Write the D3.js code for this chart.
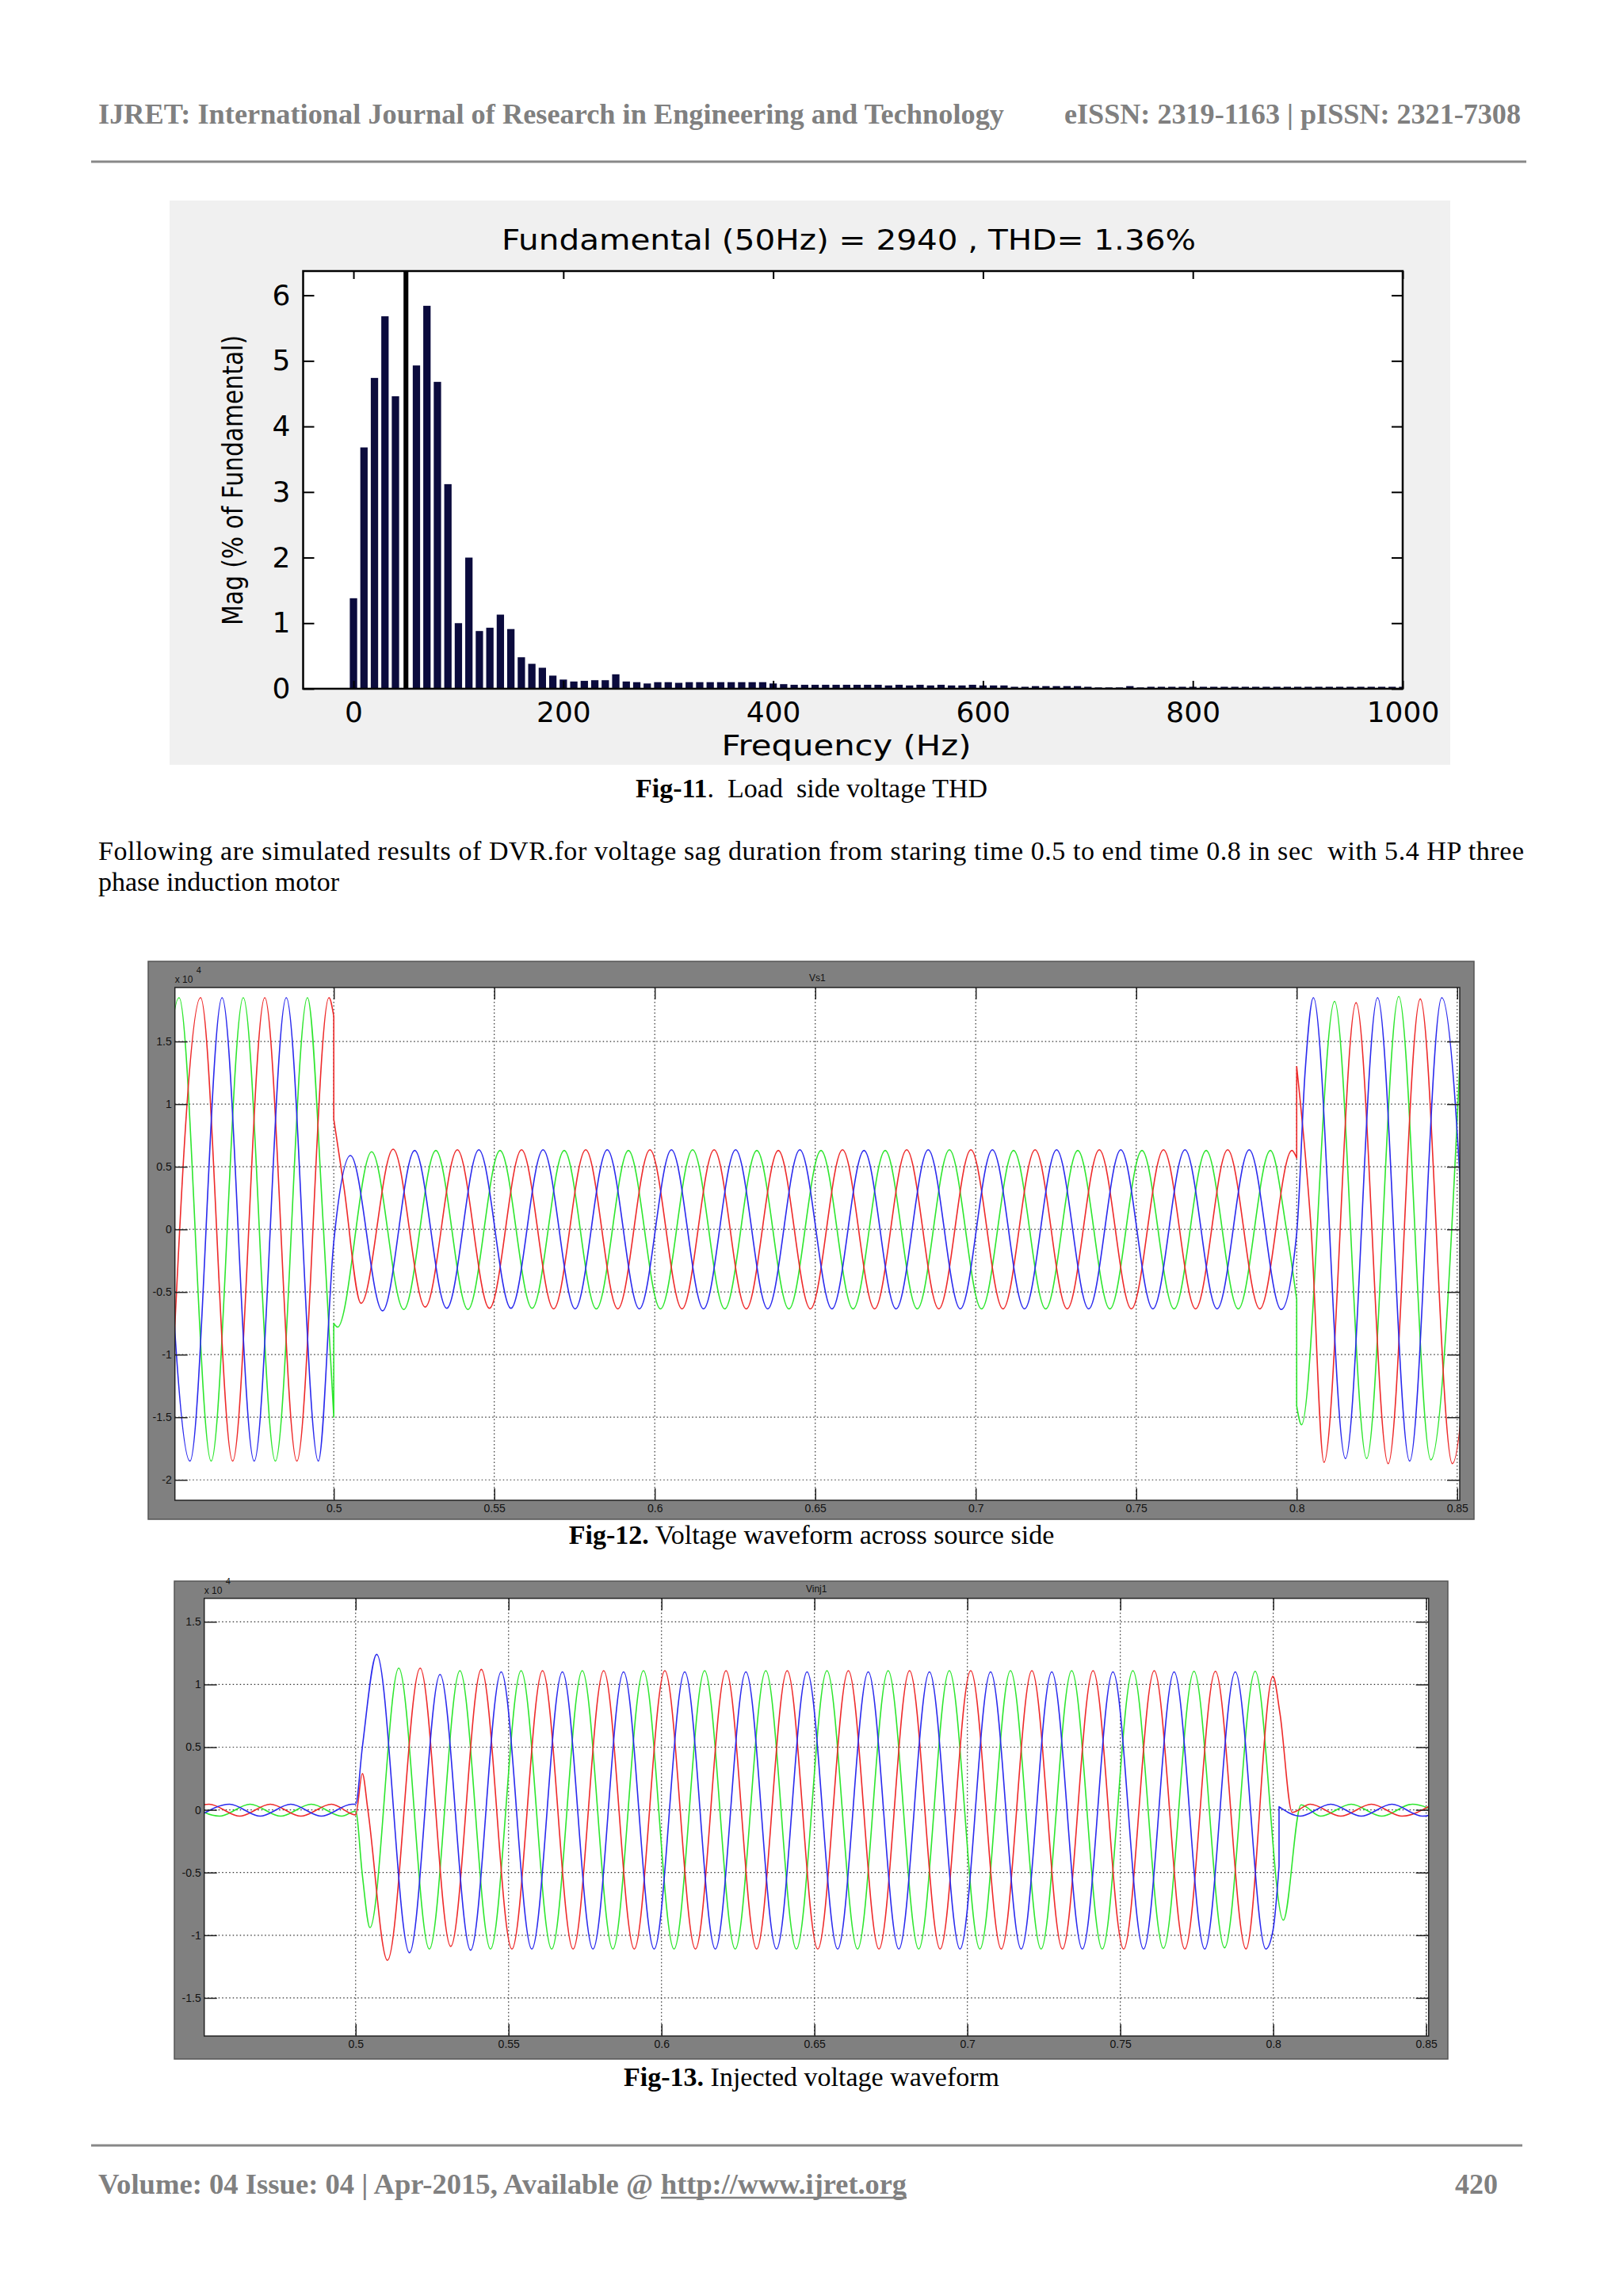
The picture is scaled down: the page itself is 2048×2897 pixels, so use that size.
<!DOCTYPE html>
<html>
<meta charset="utf-8">
<style type="text/css">
	body { margin: 0; background: #fff; }
	.serif { font-family: "Liberation Serif", "Times New Roman", serif; white-space: pre; }
	.head { font-size: 36px; font-weight: bold; fill: #808080; }
	.body { font-size: 34px; fill: #000; }
	.matlab { font-family: "DejaVu Sans", sans-serif; font-size: 35px; fill: #000; }
	.grid line { stroke: #333; stroke-width: 1.2; stroke-dasharray: 1.5,3; }
	.trace { fill: none; stroke-width: 1.6px; stroke-linejoin: round; }
</style>
<svg width="2048" height="2897"></svg>
<script src="https://d3js.org/d3.v7.min.js"></script>
<script>
	// ---- Fig-11: harmonic spectrum (% of fundamental), one bar every 10 Hz from 0 Hz
	var thdStep = 10;
	var thdMag = [
		1.38, 3.68, 4.74, 5.68, 4.46, 100, 4.93, 5.84, 4.68, 3.12,
		1.00, 2.00, 0.88, 0.93, 1.13, 0.91, 0.48, 0.38, 0.32, 0.20,
		0.14, 0.11, 0.12, 0.13, 0.13, 0.22, 0.11, 0.10, 0.08, 0.10,
		0.10, 0.09, 0.10, 0.10, 0.10, 0.10, 0.10, 0.10, 0.10, 0.10,
		0.08, 0.07, 0.06, 0.06, 0.06, 0.06, 0.06, 0.06, 0.06, 0.06,
		0.06, 0.05, 0.06, 0.05, 0.06, 0.05, 0.06, 0.05, 0.05, 0.06,
		0.05, 0.05, 0.05, 0.03, 0.03, 0.04, 0.04, 0.04, 0.04, 0.04,
		0.03, 0.02, 0.02, 0.02, 0.04, 0.02, 0.03, 0.03, 0.03, 0.03,
		0.03, 0.03, 0.03, 0.03, 0.03, 0.03, 0.03, 0.03, 0.03, 0.03,
		0.03, 0.03, 0.03, 0.03, 0.03, 0.03, 0.03, 0.03, 0.03, 0.03,
		0.03
	];
	var thdXTicks = [0, 200, 400, 600, 800, 1000];
	var thdYTicks = [0, 1, 2, 3, 4, 5, 6];
	var thdXDomain = [-48, 1000];
	var thdYDomain = [0, 6.37];

	// ---- scope plots (values x 10^4), extrema read every half cycle (10 ms)
	var halfCycle = 0.01;
	var scopeTime = [0.4505, 0.8508];
	var scopeXTicks = [0.5, 0.55, 0.6, 0.65, 0.7, 0.75, 0.8, 0.85];
	var vsYTicks = [-2, -1.5, -1, -0.5, 0, 0.5, 1, 1.5];
	var vsYDomain = [-2.163, 1.931];
	var vinjYTicks = [-1.5, -1, -0.5, 0, 0.5, 1, 1.5];
	var vinjYDomain = [-1.804, 1.687];

	// Fig-12 Vs1
	var vsGreenPre = [-1.85, 1.85, -1.85, 1.85, -1.85, 1.85];
	var vsGreenSag = [
		0.62, -0.64, 0.63, -0.64, 0.63, -0.63, 0.63, -0.635, 0.63, -0.635,
		0.635, -0.635, 0.63, -0.635, 0.63, -0.635, 0.63, -0.635, 0.635, -0.635,
		0.63, -0.635, 0.63, -0.635, 0.63, -0.635, 0.63, -0.635, 0.63];
	var vsGreenPost = [1.82, -1.83, 1.86, -1.84, 1.85];
	var vsRedPre = [-1.85, 1.85, -1.85, 1.85, -1.85, 1.85];
	var vsRedSag = [
		-0.59, 0.64, -0.62, 0.635, -0.63, 0.635, -0.635, 0.635, -0.635, 0.635,
		-0.635, 0.635, -0.635, 0.63, -0.635, 0.635, -0.635, 0.635, -0.635, 0.635,
		-0.635, 0.635, -0.635, 0.635, -0.635, 0.635, -0.635, 0.635, -0.635, 0.63];
	var vsRedPost = [-1.86, 1.81, -1.87, 1.84, -1.87, 1.85];
	var vsBluePre = [1.85, -1.85, 1.85, -1.85, 1.85, -1.85];
	var vsBlueSag = [
		0.59, -0.65, 0.63, -0.63, 0.635, -0.63, 0.635, -0.635, 0.635, -0.635,
		0.635, -0.635, 0.635, -0.635, 0.635, -0.635, 0.63, -0.635, 0.635, -0.635,
		0.635, -0.635, 0.635, -0.635, 0.635, -0.635, 0.635, -0.635, 0.635, -0.64];
	var vsBluePost = [1.85, -1.83, 1.85, -1.85, 1.85, -1.85];

	// Fig-13 Vinj1
	var vinjRedPre = [-0.05, 0.045, -0.05, 0.045, -0.05, 0.045];
	var vinjRedSag = [
		1.13, -1.09, 1.12, -1.11, 1.11, -1.11, 1.11, -1.11, 1.11, -1.11,
		1.11, -1.11, 1.11, -1.11, 1.11, -1.11, 1.11, -1.11, 1.11, -1.11,
		1.11, -1.11, 1.11, -1.11, 1.11, -1.11, 1.105, -1.11];
	var vinjRedPost = [0.045, -0.05, 0.045, -0.05, 0.045];
	var vinjGreenPre = [0.045, -0.05, 0.045, -0.05, 0.045, -0.05];
	var vinjGreenSag = [
		1.13, -1.11, 1.11, -1.11, 1.11, -1.11, 1.11, -1.11, 1.11, -1.11,
		1.11, -1.11, 1.11, -1.11, 1.11, -1.11, 1.11, -1.11, 1.11, -1.11,
		1.11, -1.11, 1.11, -1.11, 1.11, -1.105, 1.105, -1.10, 1.105];
	var vinjGreenPost = [-0.05, 0.045, -0.05, 0.045, -0.05];
	var vinjBluePre = [-0.05, 0.045, -0.05, 0.045, -0.05, 0.045];
	var vinjBlueSag = [
		-1.14, 1.08, -1.12, 1.10, -1.11, 1.10, -1.11, 1.10, -1.11, 1.10,
		-1.11, 1.10, -1.11, 1.10, -1.11, 1.10, -1.11, 1.10, -1.11, 1.10,
		-1.11, 1.10, -1.11, 1.10, -1.11, 1.10, -1.11, 1.10, -1.11];
	var vinjBluePost = [-0.05, 0.045, -0.05, 0.045, -0.05, 0.045];

	var RED = '#ee2a2a', GREEN = '#2ee62e', BLUE = '#2a2aee';

	// place a list of read extrema on the half-cycle grid starting at t0
	function run(t0, vals) {
		return vals.map(function (v, i) { return [t0 + i * halfCycle, v]; });
	}

	var vsTraces = [
		{ color: GREEN, pieces: [
			run(0.4418, vsGreenPre).concat([[0.4968, 0], [0.5, -1.5]]),
			[[0.5, -0.75], [0.5012, -0.78]].concat(run(0.5118, vsGreenSag), [[0.7968, 0], [0.8, -0.56]]),
			[[0.8, -1.41], [0.8015, -1.56]].concat(run(0.8118, vsGreenPost))
		] },
		{ color: RED, pieces: [
			run(0.4485, vsRedPre).concat([[0.5, 1.70]]),
			[[0.5, 0.88], [0.5031, 0.35]].concat(run(0.5085, vsRedSag), [[0.8, 0.57]]),
			[[0.8, 1.30], [0.8045, 0]].concat(run(0.8085, vsRedPost))
		] },
		{ color: BLUE, pieces: [
			run(0.4452, vsBluePre).concat([[0.5, -0.10]], run(0.5052, vsBlueSag),
				[[0.8, -0.03], [0.8026, 1.25]], run(0.8052, vsBluePost))
		] }
	];

	var vinjTraces = [
		{ color: GREEN, pieces: [
			run(0.4455, vinjGreenPre).concat([[0.5, -0.01], [0.5022, -0.52], [0.5047, -0.94]],
				run(0.5141, vinjGreenSag), [[0.8033, -0.88], [0.8091, 0.04]], run(0.8155, vinjGreenPost))
		] },
		{ color: RED, pieces: [
			run(0.4421, vinjRedPre).concat([[0.5, -0.04], [0.5022, 0.29], [0.504, 0.0], [0.5104, -1.2]],
				run(0.5211, vinjRedSag), [[0.7999, 1.065], [0.8022, 0.77], [0.8062, -0.02]], run(0.8121, vinjRedPost))
		] },
		{ color: BLUE, pieces: [
			run(0.4488, vinjBluePre).concat([[0.5, 0.045], [0.5022, 0.5], [0.5069, 1.24]],
				run(0.5176, vinjBlueSag), [[0.8, -0.95], [0.8019, -0.45]]),
			[[0.8019, 0.025]].concat(run(0.8088, vinjBluePost))
		] }
	];

	var svg = d3.select('svg');
	svg.append('rect').attr('width', 2048).attr('height', 2897).attr('fill', '#fff');

	// ---- page header / footer / text
	svg.append('text').attr('class', 'serif head').attr('x', 124).attr('y', 156)
		.attr('textLength', 1143).attr('lengthAdjust', 'spacingAndGlyphs')
		.text('IJRET: International Journal of Research in Engineering and Technology');
	svg.append('text').attr('class', 'serif head').attr('x', 1343).attr('y', 156)
		.attr('textLength', 576).attr('lengthAdjust', 'spacingAndGlyphs')
		.text('eISSN: 2319-1163 | pISSN: 2321-7308');
	svg.append('line').attr('x1', 115).attr('x2', 1926).attr('y1', 204).attr('y2', 204)
		.attr('stroke', '#888').attr('stroke-width', 3);

	function caption(y, bold, rest) {
		var t = svg.append('text').attr('class', 'serif body').attr('x', 1024).attr('y', y)
			.attr('text-anchor', 'middle');
		t.append('tspan').attr('font-weight', 'bold').text(bold);
		t.append('tspan').text(rest);
	}
	caption(1006, 'Fig-11', '.  Load  side voltage THD');
	caption(1948, 'Fig-12.', ' Voltage waveform across source side');
	caption(2632, 'Fig-13.', ' Injected voltage waveform');

	svg.append('text').attr('class', 'serif body').attr('x', 124).attr('y', 1085)
		.attr('textLength', 1799).attr('lengthAdjust', 'spacing')
		.text('Following are simulated results of DVR.for voltage sag duration from staring time 0.5 to end time 0.8 in sec  with 5.4 HP three');
	svg.append('text').attr('class', 'serif body').attr('x', 124).attr('y', 1124)
		.text('phase induction motor');

	svg.append('line').attr('x1', 115).attr('x2', 1921).attr('y1', 2707).attr('y2', 2707)
		.attr('stroke', '#888').attr('stroke-width', 3);
	svg.append('text').attr('class', 'serif head').attr('x', 124).attr('y', 2768)
		.attr('textLength', 700).attr('lengthAdjust', 'spacingAndGlyphs')
		.text('Volume: 04 Issue: 04 | Apr-2015, Available @');
	svg.append('text').attr('class', 'serif head').attr('x', 834).attr('y', 2768)
		.attr('textLength', 310).attr('lengthAdjust', 'spacingAndGlyphs')
		.text('http://www.ijret.org');
	svg.append('line').attr('x1', 834).attr('x2', 1144).attr('y1', 2773).attr('y2', 2773)
		.attr('stroke', '#808080').attr('stroke-width', 2.5);
	svg.append('text').attr('class', 'serif head').attr('x', 1890).attr('y', 2768)
		.attr('text-anchor', 'end').text('420');

	// ---- Fig-11
	(function () {
		var g = svg.append('g');
		var L = 382.5, T = 342, R = 1770, B = 869;
		g.append('rect').attr('x', 214).attr('y', 253).attr('width', 1616).attr('height', 712)
			.attr('fill', '#f0f0f0');
		g.append('rect').attr('x', L).attr('y', T).attr('width', R - L).attr('height', B - T)
			.attr('fill', '#fff');

		var x = d3.scaleLinear().domain(thdXDomain).range([L, R]);
		var y = d3.scaleLinear().domain(thdYDomain).range([B, T]);

		g.append('clipPath').attr('id', 'thdclip').append('rect')
			.attr('x', L).attr('y', T).attr('width', R - L).attr('height', B - T);

		var bars = thdMag.map(function (v, i) { return { f: i * thdStep, v: v }; });
		// the clipped fundamental is drawn as a thinner black bar
		function halfW(d) { return d.v > 50 ? 2.3 : 3.5; }
		g.append('g').attr('clip-path', 'url(#thdclip)')
			.selectAll('rect').data(bars).join('rect')
			.attr('x', function (d) { return x(d.f - halfW(d)); })
			.attr('width', function (d) { return x(d.f + halfW(d)) - x(d.f - halfW(d)); })
			.attr('y', function (d) { return y(d.v); })
			.attr('height', function (d) { return B - y(d.v); })
			.attr('fill', function (d) { return d.v > 50 ? '#000' : '#0b0b3d'; });

		function style(sel) {
			sel.select('.domain').remove();
			sel.selectAll('line').attr('stroke', '#000').attr('stroke-width', 2);
			sel.attr('font-family', '"DejaVu Sans", sans-serif').attr('font-size', 36);
			sel.selectAll('text').attr('fill', '#000');
		}
		var fmt = function (d) { return String(d); };
		g.append('g').attr('transform', 'translate(' + L + ',0)')
			.call(d3.axisLeft(y).tickValues(thdYTicks).tickSize(-14).tickPadding(16).tickFormat(fmt)).call(style);
		g.append('g').attr('transform', 'translate(' + R + ',0)')
			.call(d3.axisRight(y).tickValues(thdYTicks).tickSize(-14).tickFormat('')).call(style);
		g.append('g').attr('transform', 'translate(0,' + B + ')')
			.call(d3.axisBottom(x).tickValues(thdXTicks).tickSize(-10).tickPadding(16).tickFormat(fmt)).call(style);
		g.append('g').attr('transform', 'translate(0,' + T + ')')
			.call(d3.axisTop(x).tickValues(thdXTicks).tickSize(-10).tickFormat('')).call(style);

		g.append('rect').attr('x', L).attr('y', T).attr('width', R - L).attr('height', B - T)
			.attr('fill', 'none').attr('stroke', '#000').attr('stroke-width', 2.5);

		g.append('text').attr('class', 'matlab').attr('x', 1071).attr('y', 315)
			.attr('text-anchor', 'middle').attr('textLength', 876).attr('lengthAdjust', 'spacingAndGlyphs')
			.text('Fundamental (50Hz) = 2940 , THD= 1.36%');
		g.append('text').attr('class', 'matlab').attr('x', 1068).attr('y', 953)
			.attr('text-anchor', 'middle').attr('textLength', 315).attr('lengthAdjust', 'spacingAndGlyphs')
			.text('Frequency (Hz)');
		g.append('text').attr('class', 'matlab')
			.attr('transform', 'translate(294,606) rotate(-90)')
			.attr('text-anchor', 'middle').attr('dominant-baseline', 'central')
			.attr('textLength', 366).attr('lengthAdjust', 'spacingAndGlyphs')
			.text('Mag (% of Fundamental)');
	})();

	// ---- scope figures
	function drawScope(o) {
		var g = svg.append('g');
		var L = o.box[0], T = o.box[1], R = o.box[2], B = o.box[3];
		g.append('rect').attr('x', o.panel[0]).attr('y', o.panel[1])
			.attr('width', o.panel[2] - o.panel[0]).attr('height', o.panel[3] - o.panel[1])
			.attr('fill', '#808080').attr('stroke', '#555').attr('stroke-width', 1.5);
		g.append('rect').attr('x', L).attr('y', T).attr('width', R - L).attr('height', B - T)
			.attr('fill', '#fff');

		var x = d3.scaleLinear().domain(scopeTime).range([L, R]);
		var y = d3.scaleLinear().domain(o.yDomain).range([B, T]);

		var grid = g.append('g').attr('class', 'grid');
		grid.selectAll('line.gx').data(scopeXTicks).join('line').attr('class', 'gx')
			.attr('x1', function (d) { return x(d); }).attr('x2', function (d) { return x(d); })
			.attr('y1', T).attr('y2', B);
		grid.selectAll('line.gy').data(o.yTicks).join('line').attr('class', 'gy')
			.attr('y1', function (d) { return y(d); }).attr('y2', function (d) { return y(d); })
			.attr('x1', L).attr('x2', R);

		g.append('clipPath').attr('id', o.id).append('rect')
			.attr('x', L).attr('y', T).attr('width', R - L).attr('height', B - T);

		var line = d3.line()
			.x(function (d) { return x(d[0]); })
			.y(function (d) { return y(d[1]); })
			.curve(d3.curveMonotoneX);

		g.append('g').attr('clip-path', 'url(#' + o.id + ')')
			.selectAll('path').data(o.traces).join('path')
			.attr('class', 'trace')
			.attr('stroke', function (d) { return d.color; })
			.attr('d', function (d) {
				return d.pieces.map(function (p, i) {
					var s = line(p);
					return i ? 'L' + s.slice(1) : s;
				}).join('');
			});

		function style(sel) {
			sel.select('.domain').remove();
			sel.selectAll('line').attr('stroke', '#222').attr('stroke-width', 1.5);
			sel.attr('font-family', '"Liberation Sans", Arial, sans-serif').attr('font-size', 14);
			sel.selectAll('text').attr('fill', '#111');
		}
		var fmt = function (d) { return String(d); };
		g.append('g').attr('transform', 'translate(' + L + ',0)')
			.call(d3.axisLeft(y).tickValues(o.yTicks).tickSize(-16).tickPadding(4).tickFormat(fmt)).call(style);
		g.append('g').attr('transform', 'translate(' + R + ',0)')
			.call(d3.axisRight(y).tickValues(o.yTicks).tickSize(-16).tickFormat('')).call(style);
		g.append('g').attr('transform', 'translate(0,' + B + ')')
			.call(d3.axisBottom(x).tickValues(scopeXTicks).tickSize(-15).tickPadding(5).tickFormat(fmt)).call(style);
		g.append('g').attr('transform', 'translate(0,' + T + ')')
			.call(d3.axisTop(x).tickValues(scopeXTicks).tickSize(-15).tickFormat('')).call(style);

		g.append('rect').attr('x', L).attr('y', T).attr('width', R - L).attr('height', B - T)
			.attr('fill', 'none').attr('stroke', '#222').attr('stroke-width', 1.5);

		var font = '"Liberation Sans", Arial, sans-serif';
		g.append('text').attr('x', (L + R) / 2).attr('y', T - 8).attr('text-anchor', 'middle')
			.attr('font-family', font).attr('font-size', 12).attr('fill', '#111').text(o.title);
		g.append('text').attr('x', L).attr('y', T - 6)
			.attr('font-family', font).attr('font-size', 12).attr('fill', '#111').text('x 10');
		g.append('text').attr('x', L + 27).attr('y', T - 18)
			.attr('font-family', font).attr('font-size', 11).attr('fill', '#111').text('4');
	}

	drawScope({
		id: 'vsclip', title: 'Vs1',
		panel: [187, 1213, 1860, 1917], box: [220.7, 1246, 1842, 1893],
		yDomain: vsYDomain, yTicks: vsYTicks, traces: vsTraces
	});
	drawScope({
		id: 'vinjclip', title: 'Vinj1',
		panel: [220, 1995, 1827, 2598], box: [257.7, 2016.7, 1802.7, 2569],
		yDomain: vinjYDomain, yTicks: vinjYTicks, traces: vinjTraces
	});
</script>
</html>
